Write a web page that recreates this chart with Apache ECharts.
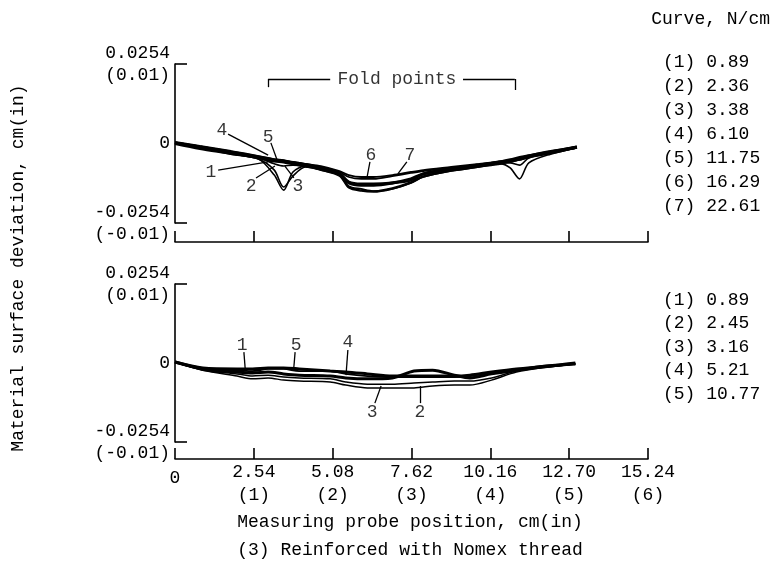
<!DOCTYPE html>
<html>
<head>
<meta charset="utf-8">
<script src="https://cdn.jsdelivr.net/npm/echarts@6.0.0/dist/echarts.min.js"></script>
<style>
  html, body { margin: 0; padding: 0; background: #fff; }
  #chart { width: 776px; height: 570px; }
</style>
</head>
<body>
<div id="chart"></div>
<script>
// probe position, cm
const topX = [0, 0.8, 1.8, 2.7, 3.2, 3.5, 3.8, 4.2, 4.7, 5.3, 5.6, 6.0, 6.4, 7.0, 7.6, 8.0, 8.9, 9.8, 10.5, 10.8, 11.1, 11.4, 12.1, 12.95];
// surface deviation, cm (upper panel, curves 1..7)
const top1 = [0.0002, -0.0014, -0.0030, -0.0046, -0.0065, -0.0072, -0.0069, -0.0072, -0.0081, -0.0101, -0.0136, -0.0145, -0.0152, -0.0145, -0.0126, -0.0107, -0.0088, -0.0075, -0.0065, -0.0059, -0.0053, -0.0043, -0.0030, -0.0014];
const top2 = [0.0002, -0.0014, -0.0034, -0.0050, -0.0101, -0.0149, -0.0091, -0.0072, -0.0085, -0.0104, -0.0142, -0.0152, -0.0155, -0.0145, -0.0126, -0.0107, -0.0088, -0.0075, -0.0065, -0.0078, -0.0113, -0.0062, -0.0034, -0.0014];
const top3 = [-0.0002, -0.0018, -0.0034, -0.0050, -0.0085, -0.0139, -0.0104, -0.0075, -0.0085, -0.0101, -0.0139, -0.0149, -0.0152, -0.0142, -0.0123, -0.0104, -0.0085, -0.0072, -0.0062, -0.0062, -0.0069, -0.0046, -0.0030, -0.0014];
const top4 = [0.0002, -0.0011, -0.0027, -0.0043, -0.0053, -0.0056, -0.0062, -0.0069, -0.0078, -0.0097, -0.0123, -0.0129, -0.0129, -0.0126, -0.0117, -0.0097, -0.0081, -0.0069, -0.0059, -0.0056, -0.0050, -0.0040, -0.0027, -0.0011];
const top5 = [0.0002, -0.0011, -0.0030, -0.0046, -0.0056, -0.0059, -0.0065, -0.0072, -0.0081, -0.0097, -0.0126, -0.0133, -0.0133, -0.0126, -0.0113, -0.0097, -0.0081, -0.0069, -0.0059, -0.0056, -0.0050, -0.0043, -0.0030, -0.0011];
const top6 = [0.0002, -0.0011, -0.0027, -0.0043, -0.0053, -0.0056, -0.0059, -0.0065, -0.0075, -0.0091, -0.0107, -0.0113, -0.0113, -0.0104, -0.0094, -0.0088, -0.0078, -0.0069, -0.0059, -0.0053, -0.0046, -0.0040, -0.0027, -0.0011];
const top7 = [0.0005, -0.0008, -0.0024, -0.0040, -0.0050, -0.0053, -0.0059, -0.0065, -0.0072, -0.0088, -0.0101, -0.0107, -0.0107, -0.0101, -0.0091, -0.0085, -0.0075, -0.0065, -0.0056, -0.0050, -0.0043, -0.0037, -0.0024, -0.0011];

const botX = [0, 0.9, 2.0, 2.5, 3.0, 3.5, 4.0, 5.0, 5.5, 6.2, 7.0, 7.7, 8.3, 9.0, 9.5, 10.2, 11.0, 12.0, 12.9];
// lower panel, curves 1..5
const bot1 = [0.0003, -0.0019, -0.0023, -0.0026, -0.0019, -0.0019, -0.0026, -0.0026, -0.0035, -0.0042, -0.0045, -0.0045, -0.0045, -0.0045, -0.0042, -0.0029, -0.0023, -0.0013, -0.0003];
const bot2 = [0.0003, -0.0023, -0.0042, -0.0051, -0.0048, -0.0055, -0.0058, -0.0061, -0.0071, -0.0080, -0.0080, -0.0080, -0.0074, -0.0071, -0.0071, -0.0055, -0.0029, -0.0013, -0.0003];
const bot3 = [0.0003, -0.0023, -0.0035, -0.0042, -0.0039, -0.0045, -0.0048, -0.0051, -0.0061, -0.0068, -0.0068, -0.0064, -0.0061, -0.0058, -0.0058, -0.0048, -0.0026, -0.0010, -0.0003];
const bot4 = [0.0003, -0.0019, -0.0029, -0.0032, -0.0029, -0.0035, -0.0039, -0.0042, -0.0048, -0.0051, -0.0048, -0.0026, -0.0023, -0.0039, -0.0048, -0.0035, -0.0023, -0.0010, -0.0003];
const bot5 = [0.0003, -0.0016, -0.0019, -0.0019, -0.0016, -0.0016, -0.0019, -0.0026, -0.0029, -0.0035, -0.0042, -0.0042, -0.0042, -0.0042, -0.0039, -0.0029, -0.0019, -0.0010, 0];

// curve tension, N/cm
const topTension = ['0.89', '2.36', '3.38', '6.10', '11.75', '16.29', '22.61'];
const botTension = ['0.89', '2.45', '3.16', '5.21', '10.77'];

// y ticks, cm (with inches)
const yTicks = [-0.0254, 0, 0.0254];

// curve number callouts: [text, labelX, labelY, fromX, fromY, toX, toY]
const topNotes = [
  ['4', 1.51, 0.0043, 1.71, 0.0030, 3.0, -0.0037],
  ['5', 3.0, 0.0021, 3.09, 0.0002, 3.29, -0.0053],
  ['1', 1.16, -0.0091, 1.39, -0.0085, 3.0, -0.0059],
  ['2', 2.45, -0.0136, 2.61, -0.0110, 3.22, -0.0072],
  ['3', 3.96, -0.0136, 3.83, -0.0110, 3.54, -0.0072],
  ['6', 6.31, -0.0037, 6.28, -0.0059, 6.19, -0.0107],
  ['7', 7.57, -0.0037, 7.47, -0.0059, 7.18, -0.0097]
];
const botNotes = [
  ['1', 2.16, 0.0058, 2.22, 0.0035, 2.26, -0.0016],
  ['5', 3.90, 0.0058, 3.87, 0.0035, 3.83, -0.0013],
  ['4', 5.57, 0.0068, 5.57, 0.0042, 5.51, -0.0039],
  ['3', 6.35, -0.0158, 6.44, -0.0129, 6.64, -0.0074],
  ['2', 7.89, -0.0158, 7.89, -0.0129, 7.89, -0.0074]
];

const FONT = 'Liberation Mono';
const chart = echarts.init(document.getElementById('chart'));

function curveSeries(xs, ys, idx, width) {
  return {
    type: 'line',
    xAxisIndex: idx,
    yAxisIndex: idx,
    data: xs.map((x, i) => [x, ys[i]]),
    showSymbol: false,
    smooth: 0.3,
    silent: true,
    lineStyle: { color: '#000', width: width },
    z: 3
  };
}

function noteSeries(notes, idx, extraLines, extraLabels) {
  const pts = notes.map(n => ({ value: [n[1], n[2]], name: n[0] })).concat(extraLabels || []);
  const segs = notes.map(n => [{ coord: [n[3], n[4]] }, { coord: [n[5], n[6]] }]).concat(extraLines || []);
  return {
    type: 'scatter',
    xAxisIndex: idx,
    yAxisIndex: idx,
    symbolSize: 0,
    silent: true,
    data: pts,
    label: {
      show: true,
      position: 'inside',
      formatter: p => p.name,
      color: '#000',
      fontFamily: FONT,
      fontSize: 18
    },
    markLine: {
      silent: true,
      symbol: ['none', 'none'],
      label: { show: false },
      lineStyle: { color: '#000', width: 1.3, type: 'solid' },
      data: segs
    },
    z: 4
  };
}

function xAxisFor(idx, showLabels, offset) {
  return {
    type: 'value',
    gridIndex: idx,
    min: 0,
    max: 15.24,
    interval: 2.54,
    offset: offset,
    axisLine: { show: true, onZero: false, lineStyle: { color: '#000', width: 1.6 } },
    axisTick: { show: true, inside: true, length: 11, lineStyle: { color: '#000', width: 1.6 } },
    splitLine: { show: false },
    axisLabel: {
      show: showLabels,
      margin: 2,
      color: '#000',
      fontFamily: FONT,
      fontSize: 18,
      lineHeight: 23,
      formatter: v => v === 0 ? '{z|0}' : v.toFixed(2) + '\n(' + Math.round(v / 2.54) + ')',
      rich: { z: { fontFamily: FONT, fontSize: 18, color: '#000', padding: [12, 0, 0, 0] } }
    }
  };
}

function yAxisFor(idx) {
  return {
    type: 'value',
    gridIndex: idx,
    min: -0.0254,
    max: 0.0254,
    interval: 0.0254,
    axisLine: { show: true, onZero: false, lineStyle: { color: '#000', width: 1.6 } },
    axisTick: { show: true, inside: true, length: 12, customValues: [yTicks[0], yTicks[2]], lineStyle: { color: '#000', width: 1.6 } },
    splitLine: { show: false },
    axisLabel: {
      margin: 5,
      color: '#000',
      fontFamily: FONT,
      fontSize: 18,
      lineHeight: 22,
      customValues: yTicks,
      formatter: v => Math.abs(v) < 1e-9 ? '0' : (v > 0 ? '0.0254\n(0.01)' : '-0.0254\n(-0.01)')
    }
  };
}

// "Fold points" bracket, data units on the upper panel
const foldY = 0.0206;
const foldLines = [
  [{ coord: [3.0, 0.0180] }, { coord: [3.0, foldY] }],
  [{ coord: [3.0, foldY] }, { coord: [5.0, foldY] }],
  [{ coord: [9.28, foldY] }, { coord: [10.95, foldY] }],
  [{ coord: [10.95, foldY] }, { coord: [10.95, 0.0171] }]
];
const foldLabel = [{ value: [7.15, foldY], name: 'Fold points' }];

const textStyle = { fill: '#000', font: '18px "' + FONT + '"' };
const graphics = [
  { type: 'text', right: 6, top: 10, style: Object.assign({ text: 'Curve, N/cm' }, textStyle) },
  {
    type: 'text', x: 18, y: 268, rotation: Math.PI / 2,
    style: Object.assign({ text: 'Material surface deviation, cm(in)', align: 'center', verticalAlign: 'middle' }, textStyle)
  },
  { type: 'text', x: 410, y: 522, style: Object.assign({ text: 'Measuring probe position, cm(in)', align: 'center', verticalAlign: 'middle' }, textStyle) },
  { type: 'text', x: 410, y: 550, style: Object.assign({ text: '(3) Reinforced with Nomex thread', align: 'center', verticalAlign: 'middle' }, textStyle) }
];
topTension.forEach((t, i) => {
  graphics.push({ type: 'text', x: 663, y: 62 + i * 24, style: Object.assign({ text: '(' + (i + 1) + ') ' + t, verticalAlign: 'middle' }, textStyle) });
});
botTension.forEach((t, i) => {
  graphics.push({ type: 'text', x: 663, y: 300 + i * 23.5, style: Object.assign({ text: '(' + (i + 1) + ') ' + t, verticalAlign: 'middle' }, textStyle) });
});

const topWidths = [1.6, 1.6, 1.6, 3, 3, 1.8, 1.8];
const botWidths = [1.8, 1.5, 1.5, 3, 3];

const series = [];
[top1, top2, top3, top4, top5, top6, top7].forEach((ys, i) => series.push(curveSeries(topX, ys, 0, topWidths[i])));
[bot1, bot2, bot3, bot4, bot5].forEach((ys, i) => series.push(curveSeries(botX, ys, 1, botWidths[i])));
series.push(noteSeries(topNotes, 0, foldLines, foldLabel));
series.push(noteSeries(botNotes, 1));

chart.setOption({
  animation: false,
  backgroundColor: '#fff',
  grid: [
    { left: 175, top: 64, width: 473, height: 159 },
    { left: 175, top: 284, width: 473, height: 158 }
  ],
  xAxis: [xAxisFor(0, false, 19), xAxisFor(1, true, 17)],
  yAxis: [yAxisFor(0), yAxisFor(1)],
  graphic: graphics,
  series: series
});
</script>
</body>
</html>
